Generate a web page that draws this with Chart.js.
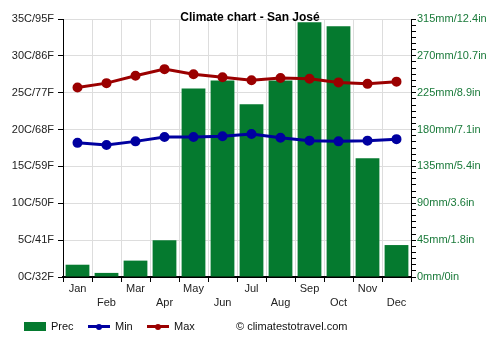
<!DOCTYPE html>
<html>
<head>
<meta charset="utf-8">
<script src="https://cdn.jsdelivr.net/npm/chart.js@4/dist/chart.umd.min.js"></script>
<style>
  body { margin: 0; background: #fff; font-family: "Liberation Sans", Arial, sans-serif; }
  #wrap { position: relative; width: 500px; height: 350px; }
  #title { position: absolute; left: 0; width: 500px; top: 10px; text-align: center; font-weight: bold; font-size: 12px; color: #000; }
  .lg { position: absolute; top: 319px; font-size: 11px; color: #111; line-height: 15px; }
  .box { position: absolute; width: 22px; height: 9px; top: 3px; }
  .ln { position: absolute; width: 22px; height: 3px; top: 6px; }
  .dot { position: absolute; width: 6px; height: 6px; border-radius: 3px; left: 8px; top: -1.5px; }
</style>
</head>
<body>
<div id="wrap">
  <canvas id="climateChart" width="500" height="350"></canvas>
  <div id="title">Climate chart - San José</div>
  <div class="lg" style="left:24px"><span class="box" style="background:#057a2f"></span><span style="margin-left:27px">Prec</span></div>
  <div class="lg" style="left:88px"><span class="ln" style="background:#0000a0"><span class="dot" style="background:#0000a0"></span></span><span style="margin-left:27px">Min</span></div>
  <div class="lg" style="left:147px"><span class="ln" style="background:#9b0000"><span class="dot" style="background:#9b0000"></span></span><span style="margin-left:27px">Max</span></div>
  <div class="lg" style="left:236px">© climatestotravel.com</div>
</div>
<script>
// Datos del gráfico
const months = ['Jan', 'Feb', 'Mar', 'Apr', 'May', 'Jun', 'Jul', 'Aug', 'Sep', 'Oct', 'Nov', 'Dec'];
const precMm = [15, 5, 20, 45, 230, 240, 211, 240, 311, 306, 145, 39];
const minC = [18.2, 17.9, 18.4, 19.0, 19.0, 19.1, 19.4, 18.9, 18.5, 18.4, 18.5, 18.7];
const maxC = [25.7, 26.3, 27.3, 28.2, 27.5, 27.1, 26.7, 27.0, 26.9, 26.4, 26.2, 26.5];
const tempTicks = ['0C/32F', '5C/41F', '10C/50F', '15C/59F', '20C/68F', '25C/77F', '30C/86F', '35C/95F'];
const precTicks = ['0mm/0in', '45mm/1.8in', '90mm/3.6in', '135mm/5.4in', '180mm/7.1in', '225mm/8.9in', '270mm/10.7in', '315mm/12.4in'];

Chart.defaults.font.family = '"Liberation Sans", Arial, sans-serif';
Chart.defaults.font.size = 11;

const ctx = document.getElementById('climateChart').getContext('2d');
new Chart(ctx, {
  type: 'bar',
  data: {
    labels: months,
    datasets: [
      {
        type: 'line', label: 'Min', data: minC, yAxisID: 'y', order: 1,
        borderColor: '#0000a0', backgroundColor: '#0000a0',
        borderWidth: 3, pointRadius: 3.5, tension: 0
      },
      {
        type: 'line', label: 'Max', data: maxC, yAxisID: 'y', order: 1,
        borderColor: '#9b0000', backgroundColor: '#9b0000',
        borderWidth: 3, pointRadius: 3.5, tension: 0
      },
      {
        type: 'bar', label: 'Prec', data: precMm, yAxisID: 'y1', order: 2,
        backgroundColor: '#057a2f', barPercentage: 0.82, categoryPercentage: 1
      }
    ]
  },
  options: {
    responsive: false,
    animation: false,
    devicePixelRatio: 1,
    layout: { padding: { top: 19, bottom: 28, left: 0, right: 0 } },
    plugins: { legend: { display: false }, tooltip: { enabled: false }, title: { display: false } },
    scales: {
      x: {
        offset: true,
        grid: { offset: true, color: '#dddddd', tickColor: '#000', tickLength: 5 },
        border: { color: '#000', width: 2 },
        ticks: {
          color: '#222', padding: 0, maxRotation: 0, autoSkip: false,
          font: { lineHeight: 1.3 },
          callback: (v, i) => i % 2 === 0 ? [months[i], ''] : ['', months[i]]
        },
        afterFit: s => { s.height = 45; }
      },
      y: {
        position: 'left', min: 0, max: 35,
        grid: { color: '#dddddd', tickColor: '#000', tickLength: 5 },
        border: { color: '#000', width: 1 },
        ticks: { stepSize: 5, color: '#222', padding: 4, callback: (v, i) => tempTicks[i] },
        afterFit: s => { s.width = 63; }
      },
      y1: {
        position: 'right', min: 0, max: 315,
        grid: { drawOnChartArea: false, tickColor: '#000', tickLength: 5 },
        border: { color: '#000', width: 1 },
        ticks: {
          stepSize: 7.5, autoSkip: false, color: '#1a7a3a', padding: 1,
          callback: (v, i) => i % 6 === 0 ? precTicks[i / 6] : ''
        },
        afterFit: s => { s.width = 89; }
      }
    }
  }
});
</script>
</body>
</html>
